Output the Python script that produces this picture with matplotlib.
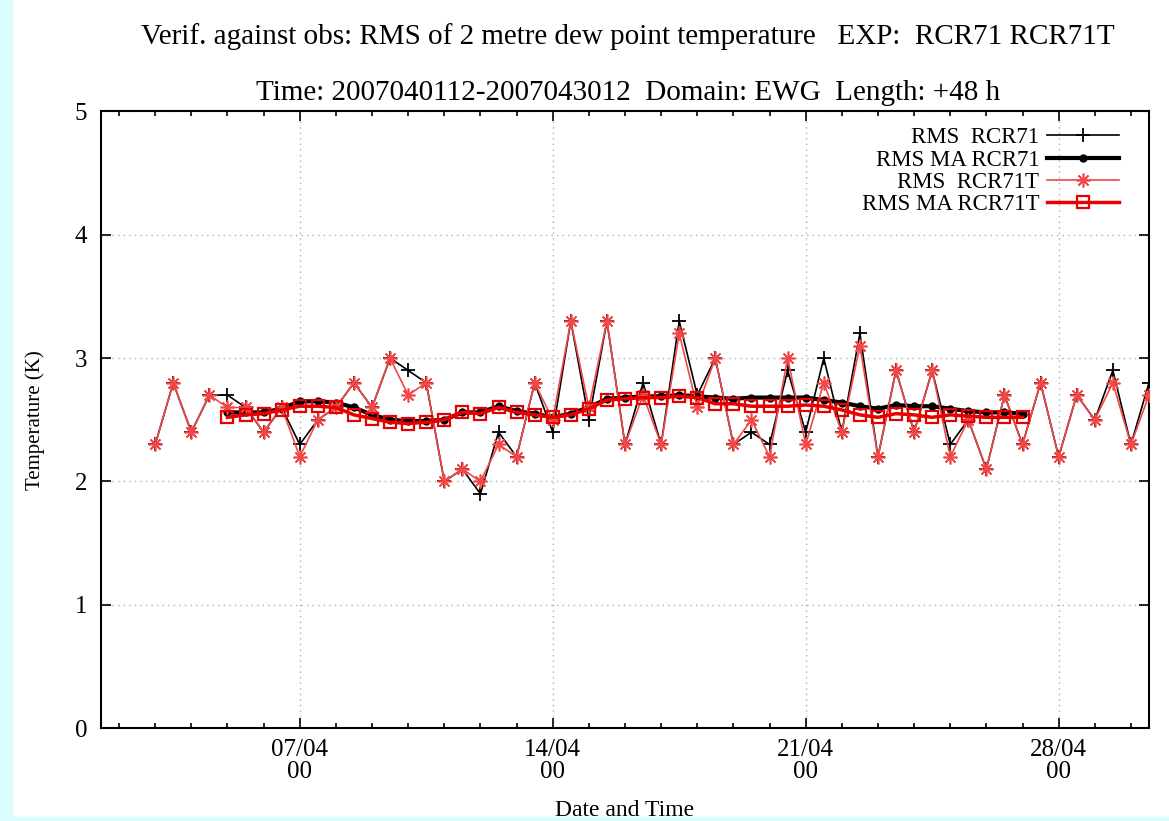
import pandas as pd
import matplotlib
matplotlib.use("Agg")
import matplotlib.pyplot as plt
import matplotlib.dates as mdates
from matplotlib.patches import Rectangle

# data: 12-hourly verification, RMS of 2 m dew point temperature (K)
times = pd.date_range("2007-04-03 00:00", periods=56, freq="12h")

rms_rcr71 = [2.3, 2.8, 2.4, 2.7, 2.7, 2.6, 2.4, 2.6, 2.3, 2.5,
             2.6, 2.8, 2.6, 3.0, 2.9, 2.8, 2.0, 2.1, 1.9, 2.4,
             2.2, 2.8, 2.4, 3.3, 2.5, 3.3, 2.3, 2.8, 2.3, 3.3,
             2.7, 3.0, 2.3, 2.4, 2.3, 2.9, 2.4, 3.0, 2.4, 3.2,
             2.2, 2.9, 2.4, 2.9, 2.3, 2.5, 2.1, 2.7, 2.3, 2.8,
             2.2, 2.7, 2.5, 2.9, 2.3, 2.8]
rms_rcr71t = [2.3, 2.8, 2.4, 2.7, 2.6, 2.6, 2.4, 2.6, 2.2, 2.5,
              2.6, 2.8, 2.6, 3.0, 2.7, 2.8, 2.0, 2.1, 2.0, 2.3,
              2.2, 2.8, 2.5, 3.3, 2.6, 3.3, 2.3, 2.7, 2.3, 3.2,
              2.6, 3.0, 2.3, 2.5, 2.2, 3.0, 2.3, 2.8, 2.4, 3.1,
              2.2, 2.9, 2.4, 2.9, 2.2, 2.5, 2.1, 2.7, 2.3, 2.8,
              2.2, 2.7, 2.5, 2.8, 2.3, 2.7]

# moving averages, available from the 5th to the 49th time step
ma_times = times[4:49]
ma_rcr71 = [2.56, 2.56, 2.56, 2.59, 2.65, 2.65, 2.64, 2.60, 2.54, 2.50,
            2.49, 2.49, 2.50, 2.56, 2.56, 2.61, 2.57, 2.55, 2.52, 2.55,
            2.60, 2.67, 2.68, 2.69, 2.69, 2.70, 2.69, 2.68, 2.67, 2.68,
            2.68, 2.68, 2.68, 2.66, 2.64, 2.61, 2.59, 2.62, 2.61, 2.61,
            2.59, 2.57, 2.56, 2.56, 2.55]
ma_rcr71t = [2.52, 2.54, 2.55, 2.58, 2.61, 2.61, 2.60, 2.54, 2.51, 2.48,
             2.47, 2.48, 2.50, 2.56, 2.55, 2.60, 2.56, 2.54, 2.52, 2.54,
             2.59, 2.66, 2.67, 2.68, 2.68, 2.69, 2.68, 2.63, 2.63, 2.61,
             2.61, 2.61, 2.62, 2.61, 2.58, 2.54, 2.52, 2.55, 2.54, 2.52,
             2.54, 2.53, 2.52, 2.52, 2.52]

plt.rcParams['font.family'] = ['Liberation Serif', 'DejaVu Serif']

fig = plt.figure(figsize=(11.69, 8.21), dpi=100)
fig.patches.append(Rectangle((0, 0), 12 / 1169, 1, transform=fig.transFigure,
                             color='#dcfdfd', zorder=-1))
fig.patches.append(Rectangle((0, 0), 1, 4 / 821, transform=fig.transFigure,
                             color='#dcfdfd', zorder=-1))
ax = fig.add_axes([101 / 1169, 1 - 728.3 / 821, 1048 / 1169, 617 / 821])

ax.plot(times, rms_rcr71, color='black', lw=1.2, marker='+', ms=10, mew=1.3,
        label='RMS  RCR71', zorder=3)
ax.plot(ma_times, ma_rcr71, color='black', lw=3, marker='o', ms=5,
        label='RMS MA RCR71', zorder=4)
ax.plot(times, rms_rcr71t, color='#f04848', lw=1.2, marker=(8, 2, 0), ms=10, mew=1.2,
        label='RMS  RCR71T', zorder=5)
ax.plot(ma_times, ma_rcr71t, color='#e80000', lw=2.5, marker='s', ms=8, mew=1.6,
        mfc='none', label='RMS MA RCR71T', zorder=6)

ax.set_xlim(pd.Timestamp("2007-04-01 12:00"), pd.Timestamp("2007-04-30 12:00"))
ax.set_ylim(0, 5)
ax.set_yticks([0, 1, 2, 3, 4, 5])
ax.xaxis.set_major_locator(mdates.DayLocator(bymonthday=[7, 14, 21, 28]))
ax.xaxis.set_minor_locator(mdates.DayLocator())
ax.xaxis.set_major_formatter(mdates.DateFormatter('%d/%m\n%H'))

ax.tick_params(which='both', direction='in', top=True, right=True, labelsize=18, width=1.2)
ax.tick_params(which='major', length=7)
ax.tick_params(which='minor', length=3.6)
ax.tick_params(axis='x', pad=8)
ax.tick_params(axis='y', pad=10)
for lab in ax.get_xticklabels():
    lab.set_linespacing(1.0)
for sp in ax.spines.values():
    sp.set_linewidth(1.5)
ax.grid(True, which='major', color='#b0b0b0', ls=(0, (1, 3)), lw=1.0)

ax.set_xlabel('Date and Time', fontsize=17, labelpad=12)
ax.set_ylabel('Temperature (K)', fontsize=15, labelpad=21)

fig.text(0.537, 1 - 37 / 821, 'Verif. against obs: RMS of 2 metre dew point temperature   EXP:  RCR71 RCR71T',
         ha='center', va='center', fontsize=21)
fig.text(0.537, 1 - 93 / 821, 'Time: 2007040112-2007043012  Domain: EWG  Length: +48 h',
         ha='center', va='center', fontsize=21)

ax.legend(loc='upper right', markerfirst=False, frameon=False, fontsize=16.5,
          handlelength=3.15, labelspacing=0.05, borderaxespad=0.3, handletextpad=0.35,
          bbox_to_anchor=(0.987, 1.0))

plt.savefig('out.png', dpi=100)
